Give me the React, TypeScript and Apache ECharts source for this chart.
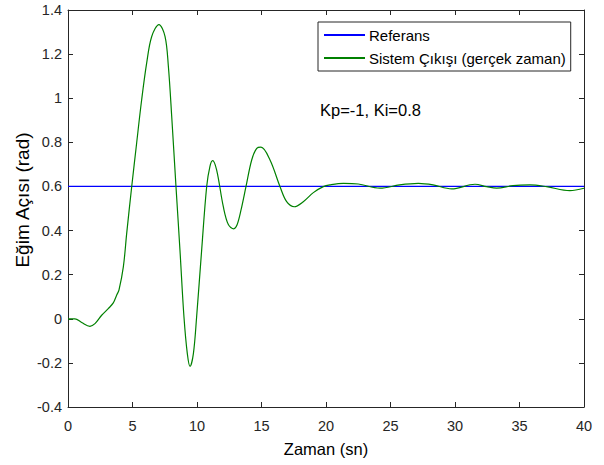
import React, { useEffect, useRef } from "react";
import * as echarts from "echarts";

const xTickLabels = ["0", "5", "10", "15", "20", "25", "30", "35", "40"];
const yTickLabels = ["-0.4", "-0.2", "0", "0.2", "0.4", "0.6", "0.8", "1", "1.2", "1.4"];

const referenceValue = 0.6;
const referenceTimes = [0, 40];

const outputTimes = [
  0, 0.54, 1.06, 1.7, 2.09, 2.61, 3.12, 3.51, 3.77, 3.95, 4.29, 4.55, 4.94, 5.32, 5.71, 6.1, 6.49, 7.05,
  7.52, 7.78, 8.04, 8.37, 8.68, 8.99, 9.25, 9.46, 9.72, 9.97, 10.36, 10.75, 11.0, 11.21, 11.52, 12.04,
  12.43, 12.85, 13.1, 13.4, 13.8, 14.24, 14.63, 14.96, 15.66, 16.43, 16.95, 17.54, 18.24, 19.02, 19.79,
  20.3, 21.35, 22.5, 24.19, 25.7, 27.16, 28.3, 29.74, 31.55, 32.45, 33.23, 34.5, 35.8, 37.1, 38.9, 40,
];
const outputValues = [
  0, 0, -0.017, -0.034, -0.022, 0.016, 0.046, 0.072, 0.107, 0.13, 0.235, 0.387, 0.6, 0.796, 0.993, 1.16,
  1.28, 1.334, 1.28, 1.145, 0.917, 0.6, 0.311, 0.008, -0.158, -0.216, -0.158, 0.008, 0.311, 0.6, 0.69,
  0.717, 0.675, 0.508, 0.427, 0.408, 0.425, 0.49, 0.6, 0.72, 0.773, 0.778, 0.72, 0.6, 0.531, 0.508, 0.531,
  0.572, 0.599, 0.607, 0.614, 0.611, 0.592, 0.607, 0.614, 0.607, 0.589, 0.61, 0.599, 0.592, 0.604,
  0.607, 0.599, 0.581, 0.592,
];

const seriesNames = ["Referans", "Sistem Çıkışı (gerçek zaman)"];
const xLabel = "Zaman (sn)";
const yLabel = "Eğim Açısı (rad)";
const annotation = "Kp=-1, Ki=0.8";

const FONT = "'Liberation Sans', Arial, Helvetica, sans-serif";
const AX = "#262626";

export default function App() {
  const ref = useRef<HTMLDivElement>(null);
  useEffect(() => {
    if (!ref.current) return;
    const chart = echarts.init(ref.current, undefined, { renderer: "svg" });
    const xMin = Number(xTickLabels[0]);
    const xMax = Number(xTickLabels[xTickLabels.length - 1]);
    const yMin = Number(yTickLabels[0]);
    const yMax = Number(yTickLabels[yTickLabels.length - 1]);
    const common = {
      axisLine: { show: true, onZero: false, lineStyle: { color: AX, width: 1 } },
      axisTick: { show: true, inside: true, length: 5, lineStyle: { color: AX } },
      splitLine: { show: false },
    };
    chart.setOption({
      animation: false,
      backgroundColor: "#ffffff",
      textStyle: { fontFamily: FONT },
      grid: { left: 68, right: 20, top: 10, bottom: 58, containLabel: false },
      legend: {
        orient: "vertical",
        left: 318,
        top: 22,
        data: seriesNames,
        itemWidth: 41,
        itemHeight: 14,
        itemGap: 8,
        padding: [5.5, 5, 5.5, 5],
        borderColor: AX,
        borderWidth: 1,
        backgroundColor: "#ffffff",
        itemStyle: { opacity: 0 },
        textStyle: { fontFamily: FONT, fontSize: 15, color: "#000000", padding: [0, 0, 0, -1] },
      },
      xAxis: [
        {
          type: "value",
          min: xMin,
          max: xMax,
          interval: 5,
          position: "bottom",
          ...common,
          axisLabel: { color: AX, fontSize: 14.5, fontFamily: FONT, margin: 11 },
          name: xLabel,
          nameLocation: "middle",
          nameGap: 33,
          nameTextStyle: { color: "#000000", fontSize: 16.5, fontFamily: FONT },
        },
        {
          type: "value",
          min: xMin,
          max: xMax,
          interval: 5,
          position: "top",
          ...common,
          axisLabel: { show: false },
        },
      ],
      yAxis: [
        {
          type: "value",
          min: yMin,
          max: yMax,
          interval: 0.2,
          position: "left",
          ...common,
          axisLabel: { color: AX, fontSize: 14.5, fontFamily: FONT, margin: 6 },
        },
        {
          type: "value",
          min: yMin,
          max: yMax,
          interval: 0.2,
          position: "right",
          ...common,
          axisLabel: { show: false },
        },
      ],
      graphic: [
        {
          type: "text",
          x: 22,
          y: 200,
          rotation: Math.PI / 2,
          style: {
            text: yLabel,
            fontSize: 19,
            fontFamily: FONT,
            fill: "#000000",
            textAlign: "center",
            textVerticalAlign: "middle",
          },
        },
        {
          type: "text",
          x: 320,
          y: 110,
          style: {
            text: annotation,
            fontSize: 16.5,
            fontFamily: FONT,
            fill: "#000000",
            textAlign: "left",
            textVerticalAlign: "middle",
          },
        },
      ],
      series: [
        {
          name: seriesNames[0],
          type: "line",
          symbol: "none",
          data: referenceTimes.map((t) => [t, referenceValue]),
          lineStyle: { color: "#0000ff", width: 1.2 },
          itemStyle: { color: "#0000ff" },
        },
        {
          name: seriesNames[1],
          type: "line",
          symbol: "none",
          smooth: 0.35,
          data: outputTimes.map((t, i) => [t, outputValues[i]]),
          lineStyle: { color: "#008000", width: 1.2 },
          itemStyle: { color: "#008000" },
        },
      ],
    });
    return () => chart.dispose();
  }, []);
  return (
    <div
      ref={ref}
      style={{ position: "fixed", left: 0, top: 0, width: 604, height: 465, background: "#fff" }}
    />
  );
}
